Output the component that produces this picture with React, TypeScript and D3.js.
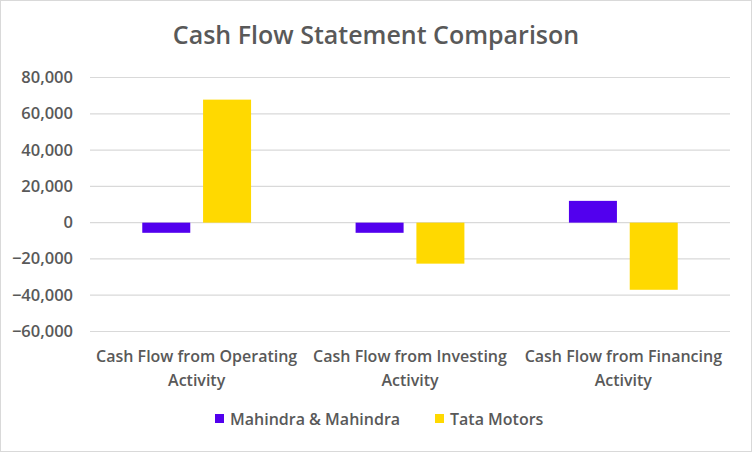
import * as d3 from "d3";

const categories = [
  ["Cash Flow from Operating", "Activity"],
  ["Cash Flow from Investing", "Activity"],
  ["Cash Flow from Financing", "Activity"],
];
const seriesNames = ["Mahindra & Mahindra", "Tata Motors"];
const mahindra = [-5600, -5600, 12000];
const tata = [67800, -22600, -37000];
const yTicks = [-60000, -40000, -20000, 0, 20000, 40000, 60000, 80000];
const colors = ["#5200EE", "#FFD900"];

const width = 752;
const height = 452;
const plot = { left: 90, right: 730, top: 77.5, bottom: 331.5 };
const font = "'Open Sans', sans-serif";
const textColor = "#595959";

const App = () => {
  const x = d3
    .scaleBand<number>()
    .domain(d3.range(categories.length))
    .range([plot.left, plot.right]);
  const y = d3.scaleLinear().domain([-60000, 80000]).range([plot.bottom, plot.top]);
  const fmt = d3.format(",");

  const barW = x.bandwidth() * 0.225;
  const gap = x.bandwidth() * 0.06;
  const series = [mahindra, tata];

  return (
    <svg
      width={width}
      height={height}
      style={{ position: "absolute", left: 0, top: 0, fontFamily: font, fontWeight: 600 }}
    >
      <rect x={0.5} y={0.5} width={width - 1} height={height - 1} fill="#fff" stroke="#d9d9d9" />
      <text x={376} y={43.5} textAnchor="middle" fontSize={25} fill={textColor}>
        Cash Flow Statement Comparison
      </text>

      {yTicks.map((t) => (
        <g key={t}>
          <line x1={plot.left} x2={plot.right} y1={y(t)} y2={y(t)} stroke="#d9d9d9" strokeWidth={1.2} />
          <text x={73} y={y(t) + 5.5} textAnchor="end" fontSize={16.5} fill={textColor}>
            {fmt(t)}
          </text>
        </g>
      ))}

      {series.map((vals, si) =>
        vals.map((v, ci) => {
          const cx = (x(ci) ?? 0) + x.bandwidth() / 2;
          const bx = si === 0 ? cx - gap / 2 - barW : cx + gap / 2;
          return (
            <rect
              key={`${si}-${ci}`}
              x={bx}
              y={Math.min(y(v), y(0))}
              width={barW}
              height={Math.abs(y(v) - y(0))}
              fill={colors[si]}
            />
          );
        })
      )}

      {categories.map((lines, ci) => (
        <text
          key={ci}
          x={(x(ci) ?? 0) + x.bandwidth() / 2}
          textAnchor="middle"
          fontSize={16}
          fill={textColor}
        >
          {lines.map((l, li) => (
            <tspan key={li} x={(x(ci) ?? 0) + x.bandwidth() / 2} y={362 + li * 23.5}>
              {l}
            </tspan>
          ))}
        </text>
      ))}

      <g>
        <rect x={215} y={414} width={9} height={9} fill={colors[0]} />
        <text x={230} y={425} fontSize={16} fill={textColor}>
          {seriesNames[0]}
        </text>
        <rect x={435} y={414} width={9} height={9} fill={colors[1]} />
        <text x={450} y={425} fontSize={16} fill={textColor}>
          {seriesNames[1]}
        </text>
      </g>
    </svg>
  );
};

export default App;
